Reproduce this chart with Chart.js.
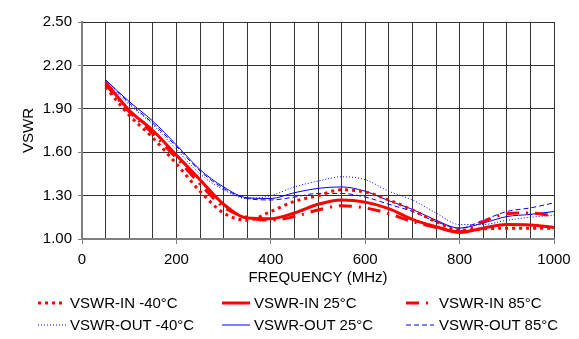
<!DOCTYPE html>
<html>
<head>
<meta charset="utf-8">
<script src="https://cdn.jsdelivr.net/npm/chart.js@4"></script>
<style>
  html,body{margin:0;padding:0;background:#fff;}
  #wrap{position:relative;width:579px;height:339px;font-family:"Liberation Sans",Arial,sans-serif;}
  #legend{position:absolute;left:0;top:288px;width:579px;height:51px;}
  .item{position:absolute;font-size:15px;line-height:17px;color:#000;white-space:nowrap;}
  .item svg{position:absolute;top:0;}
</style>
</head>
<body>
<div id="wrap">
  <canvas id="c" width="579" height="339"></canvas>
  <div id="legend"></div>
</div>
<script>
// frequency points (MHz)
const freq = [50,100,150,200,250,300,350,400,450,500,550,600,650,700,750,800,850,900,950,1000];

// VSWR readings per curve
const inM40  = [2.05,1.855,1.70,1.52,1.33,1.18,1.13,1.19,1.26,1.30,1.34,1.325,1.27,1.20,1.12,1.06,1.07,1.075,1.075,1.075];
const in25   = [2.085,1.89,1.75,1.58,1.41,1.24,1.145,1.14,1.18,1.24,1.27,1.255,1.21,1.135,1.085,1.045,1.075,1.10,1.097,1.08];
const in85   = [2.07,1.88,1.73,1.56,1.38,1.22,1.15,1.13,1.155,1.20,1.23,1.215,1.175,1.12,1.08,1.05,1.12,1.175,1.18,1.16];
const outM40 = [2.09,1.93,1.79,1.62,1.45,1.34,1.28,1.30,1.36,1.40,1.43,1.41,1.33,1.27,1.18,1.10,1.10,1.13,1.15,1.165];
const out25  = [2.10,1.95,1.815,1.65,1.48,1.36,1.285,1.28,1.32,1.35,1.36,1.33,1.265,1.205,1.13,1.075,1.11,1.155,1.17,1.19];
const out85  = [2.10,1.94,1.80,1.64,1.47,1.35,1.28,1.27,1.29,1.315,1.315,1.29,1.24,1.19,1.12,1.075,1.13,1.19,1.215,1.25];

const yTicks = [1.00,1.30,1.60,1.90,2.20,2.50];
const xLabels = [0,200,400,600,800,1000];

const RED='#ff0000', BLUE='#0000ff';
const series = [
  {label:'VSWR-IN -40°C',  data:inM40,  color:RED,  width:3, dash:[3,4]},
  {label:'VSWR-IN 25°C',   data:in25,   color:RED,  width:3, dash:[]},
  {label:'VSWR-IN 85°C',   data:in85,   color:RED,  width:3, dash:[13,7,2,7]},
  {label:'VSWR-OUT -40°C', data:outM40, color:BLUE, width:1, dash:[1,2]},
  {label:'VSWR-OUT 25°C',  data:out25,  color:BLUE, width:1, dash:[]},
  {label:'VSWR-OUT 85°C',  data:out85,  color:BLUE, width:1, dash:[5,3]},
];

const FONT = {family:'"Liberation Sans", Arial, sans-serif', size:15};

new Chart(document.getElementById('c'), {
  type:'line',
  data:{
    datasets: series.map(s=>({
      label:s.label,
      data:freq.map((f,i)=>({x:f,y:s.data[i]})),
      borderColor:s.color,
      borderWidth:s.width,
      borderDash:s.dash,
      pointRadius:0,
      fill:false,
      cubicInterpolationMode:'monotone'
    }))
  },
  options:{
    responsive:false,
    animation:false,
    layout:{padding:{left:20,right:25,top:22,bottom:51}},
    plugins:{legend:{display:false},tooltip:{enabled:false}},
    scales:{
      x:{
        type:'linear', min:0, max:1000,
        afterFit: s=>{ s.height = 49; },
        ticks:{
          stepSize:50, autoSkip:false, maxRotation:0, color:'#000', font:FONT, padding:7,
          callback: v => xLabels.includes(v) ? String(v) : ''
        },
        grid:{
          color:'#333', lineWidth:1, tickLength:5,
          tickColor: ctx => xLabels.includes(ctx.tick && ctx.tick.value) ? '#808080' : 'rgba(0,0,0,0)'
        },
        border:{color:'#808080', width:2},
        title:{display:true, text:'FREQUENCY (MHz)', color:'#000', font:FONT, padding:{top:0,bottom:1}}
      },
      y:{
        min:1, max:2.5,
        afterFit: s=>{ s.width = 62; },
        afterBuildTicks: s=>{ s.ticks = yTicks.map(v=>({value:v})); },
        ticks:{color:'#000', font:FONT, padding:6, callback: v => Number(v).toFixed(2)},
        grid:{color:'#333', lineWidth:1, tickLength:4, tickColor:'#808080'},
        border:{color:'#808080', width:2},
        title:{display:true, text:'VSWR', color:'#000', font:FONT, padding:{top:0,bottom:0}}
      }
    }
  }
});

// legend below the plot, built from the series list
const legendPos = [
  {sx:38, tx:70, y:6},  {sx:222, tx:254, y:6},  {sx:406, tx:439, y:6},
  {sx:38, tx:70, y:28}, {sx:222, tx:254, y:28}, {sx:406, tx:439, y:28}
];
const leg = document.getElementById('legend');
series.forEach((s,i)=>{
  const p = legendPos[i];
  const sample = document.createElement('div');
  sample.className='item';
  sample.style.left = p.sx+'px';
  sample.style.top = p.y+'px';
  sample.innerHTML = `<svg width="30" height="17" style="left:0"><line x1="0" y1="9" x2="28" y2="9" stroke="${s.color}" stroke-width="${s.width}" stroke-dasharray="${s.dash.join(',')}"/></svg>`;
  leg.appendChild(sample);
  const t = document.createElement('div');
  t.className='item';
  t.style.left = p.tx+'px';
  t.style.top = p.y+'px';
  t.textContent = s.label;
  leg.appendChild(t);
});
</script>
</body>
</html>
